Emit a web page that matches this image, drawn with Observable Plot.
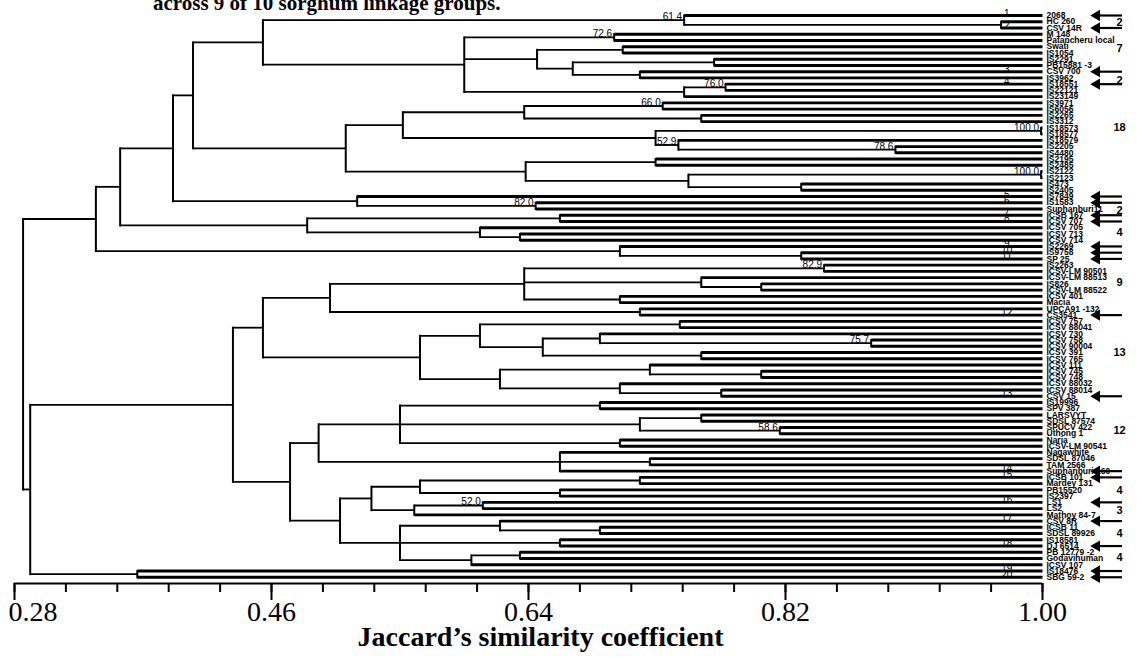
<!DOCTYPE html>
<html><head><meta charset="utf-8">
<script src="https://cdn.jsdelivr.net/npm/d3@7"></script>
<script src="https://cdn.jsdelivr.net/npm/@observablehq/plot@0.6"></script>
<style>
body{margin:0;background:#fff;overflow:hidden}
#wrap{position:relative;width:1145px;height:658px;overflow:hidden}
#chart{position:absolute;left:0;top:0}
#title{position:absolute;left:153px;top:-7px;font:bold 21px/21px "Liberation Serif",serif;white-space:nowrap;z-index:2}
</style></head><body>
<div id="wrap"><div id="title">across 9 of 10 sorghum linkage groups.</div><div id="chart"></div></div>
<script>
// Leaf genotypes, top to bottom
const leaves = ["2068","HC 260","CSV 14R","M 148","Patancheru local","Swati","IS1054","IS2291","PB15881 -3","CSV 700","IS3962","IS18551","IS22121","IS23149","IS3971","IS6056","IS2265","IS3312","IS18573","IS18577","IS18579","IS2205","IS4480","IS2195","IS2485","IS2122","IS2123","IS473","IS2405","IS7849","IS1583","Suphanburi11","ICSB 167","ICSV 707","ICSV 705","ICSV 713","ICSV 714","IS2269","IS9758","SP 25","IS2263","ICSV-LM 90501","ICSV-LM 88513","IS826","ICSV-LM 88522","ICSV 401","Macia","UPCA91 -132","CS3541","ICSV 757","ICSV 88041","ICSV 730","ICSV 758","ICSV 90004","ICSV 391","ICSV 765","ICSV 111","ICSV 745","ICSV 748","ICSV 88032","ICSV 88014","CSV 15","IS19996","SPV 387","LARSVYT","SDSL 87574","SPUCV 422","Uthong 1","Naria","ICSV-LM 90541","Nagawhite","SDSL 87046","TAM 2566","Suphanburi 160","ICSB 101","Mardey 131","PB15520","IS2397","LS1","LS2","Mathoy 84-7","CSV 8R","ICSB 11","SDSL 89926","IS18581","DJ 6514","PB 12779 -2","Godavihuman","ICSV 107","IS18476","SBG 59-2"];

// Clusters: [first leaf, last leaf, Jaccard similarity at join, node label]
const clusters = [
 [0,90,0.286],[0,39,0.337],[0,36,0.354],[0,31,0.391],[0,28,0.405],[0,13,0.454],
 [0,2,0.749,"61.4"],[1,2,0.971],[3,13,0.595],[3,4,0.700,"72.6"],[5,10,0.646],[5,6,0.706],
 [7,10,0.671],[7,8,0.770],[9,10,0.718],[11,13,0.749],[11,12,0.778,"76.0"],
 [14,28,0.512],[14,22,0.552],[14,17,0.637],[14,15,0.734,"66.0"],[16,17,0.761],
 [18,22,0.729],[18,19,0.999,"100.0"],[20,22,0.745,"52.9"],[21,22,0.897,"78.6"],
 [23,28,0.638],[23,24,0.729],[25,28,0.752],[25,26,0.999,"100.0"],[27,28,0.831],
 [29,31,0.520],[30,31,0.645,"82.0"],[32,36,0.485],[32,33,0.662],[34,36,0.606],[35,36,0.634],
 [37,39,0.704],[38,39,0.831],
 [40,90,0.291],[40,88,0.433],[40,61,0.454],[40,48,0.501],[40,46,0.637],[40,41,0.847,"82.9"],
 [42,44,0.761],[43,44,0.803],[45,46,0.704],[47,48,0.718],
 [49,61,0.564],[49,55,0.606],[49,50,0.746],[51,55,0.650],[51,53,0.690],[52,53,0.880,"75.7"],[54,55,0.761],
 [56,61,0.620],[56,58,0.725],[57,58,0.803],[59,61,0.704],[60,61,0.775],
 [62,88,0.473],[62,73,0.493],[62,69,0.550],[62,63,0.690],[64,67,0.718],[64,65,0.761],[66,67,0.816,"58.6"],
 [68,69,0.704],[70,73,0.662],[71,72,0.725],
 [74,88,0.508],[74,80,0.530],[74,77,0.564],[74,75,0.718],[76,77,0.662],[78,80,0.560],[78,79,0.608,"52.0"],
 [81,88,0.550],[81,83,0.620],[82,83,0.690],[84,85,0.662],[86,88,0.600],[86,87,0.634],
 [89,90,0.366]
];

// Numbered genotypes (marked with arrows)
const markLeaf = [0,2,9,11,29,30,32,33,37,38,39,48,61,73,74,78,81,85,89,90];
const markText = ["1","2","3","4","5","6","7","8","9","10","11","12","13","14","15","16","17","18","19","20"];

// Group sizes at right: text and leaf-row position
const groupText = ["2","7","2","18","2","4","9","13","12","4","3","4","4"];
const groupRow  = [1.1,5.3,10.4,17.9,31.3,34.8,42.8,54,66.5,76.1,79.3,83,86.9];

const majorTicks = [0.28,0.46,0.64,0.82,1.00];
const minorTicks = d3.range(0,21).map(i => 0.28 + i*0.036);
const xTitle = "Jaccard\u2019s similarity coefficient";

// ---- build tree from clusters ----
const T = clusters.map(([a,b,s,label]) => ({a,b,s,label}));
T.sort((p,q) => (p.b-p.a) - (q.b-q.a)); // small to large
const size = n => n.b - n.a;
for (const n of T) {
  n.parent = null;
  for (const m of T) if (m !== n && m.a <= n.a && m.b >= n.b && size(m) > size(n)) {
    if (!n.parent || size(m) < size(n.parent)) n.parent = m;
  }
}
const leafParent = leaves.map((_, i) => {
  let best = null;
  for (const m of T) if (m.a <= i && m.b >= i && (!best || size(m) < size(best))) best = m;
  return best;
});
for (const n of T) { n.kidY = []; }
leaves.forEach((_, i) => leafParent[i].kidY.push(i));
for (const n of T) {
  n.y0 = d3.min(n.kidY); n.y1 = d3.max(n.kidY); n.y = (n.y0 + n.y1) / 2;
  if (n.parent) n.parent.kidY.push(n.y);
}
const HL = leaves.map((_, i) => ({x1: leafParent[i].s, x2: 1.0, y: i}));
const HN = T.filter(n => n.parent).map(n => ({x1: n.parent.s, x2: n.s, y: n.y}));
const V = T.map(n => ({x: n.s, y1: n.y0, y2: n.y1}));
const nodeLabels = T.filter(n => n.label);

const serif = "Liberation Serif, Times New Roman, serif";
const sans = "Liberation Sans, Arial, sans-serif";

const chart = Plot.plot({
  width: 1145, height: 658,
  marginLeft: 14, marginRight: 103, marginTop: 15, marginBottom: 75,
  x: {domain: [0.28, 1.0], axis: null},
  y: {domain: [0, 91], reverse: true, axis: null},
  style: {background: "transparent", overflow: "visible"},
  marks: [
    Plot.link(HL, {x1: "x1", x2: "x2", y1: "y", y2: "y", stroke: "#000", strokeWidth: 2.9}),
    Plot.link(HN, {x1: "x1", x2: "x2", y1: "y", y2: "y", stroke: "#000", strokeWidth: 1.8}),
    Plot.link(V, {x1: "x", x2: "x", y1: "y1", y2: "y2", stroke: "#000", strokeWidth: 2, strokeLinecap: "square"}),
    Plot.text(nodeLabels, {x: "s", y: "y", text: "label", textAnchor: "end", lineAnchor: "bottom", dx: -2, dy: 0, fontSize: 10, fontFamily: sans, fill: "#000"}),
    Plot.text(leaves, {x: () => 1.0, y: (d, i) => i, text: d => d, textAnchor: "start", dx: 4, fontSize: 8.5, fontWeight: "bold", fontFamily: sans, fill: "#000"}),
    Plot.text(markLeaf, {x: () => 0.975, y: d => d, text: (d, i) => markText[i], lineAnchor: "bottom", dy: 1, fontSize: 10, fontFamily: sans, fill: "#000"}),
    Plot.ruleY(markLeaf, {y: d => d, x1: 1.036, x2: 1.056, stroke: "#000", strokeWidth: 2.2}),
    Plot.dot(markLeaf, {x: () => 1.038, y: d => d, symbol: "triangle", rotate: -90, r: 4.2, fill: "#000", stroke: "none"}),
    Plot.text(groupText, {x: () => 1.054, y: (d, i) => groupRow[i], text: d => d, fontSize: 11, fontWeight: "bold", fontFamily: sans, fill: "#000"}),
    Plot.ruleY([91], {x1: 0.28, x2: 1.0, stroke: "#000", strokeWidth: 2}),
    Plot.axisX({ticks: minorTicks, tickSize: 9, tickFormat: () => "", strokeWidth: 2, anchor: "bottom"}),
    Plot.axisX({ticks: majorTicks, tickSize: 17, tickFormat: () => "", strokeWidth: 2, anchor: "bottom"}),
    Plot.text(majorTicks.slice(0,1), {x: d => d, frameAnchor: "bottom", dy: 37, dx: -6, textAnchor: "start", text: d => d.toFixed(2), fontSize: 28, fontFamily: serif, fill: "#000"}),
    Plot.text(majorTicks.slice(1), {x: d => d, frameAnchor: "bottom", dy: 37, text: d => d.toFixed(2), fontSize: 28, fontFamily: serif, fill: "#000"}),
    Plot.text([xTitle], {frameAnchor: "bottom", dy: 62, dx: 12, text: d => d, fontSize: 28, fontWeight: "bold", fontFamily: serif, fill: "#000"})
  ]
});
document.getElementById("chart").appendChild(chart);
</script>
</body></html>
